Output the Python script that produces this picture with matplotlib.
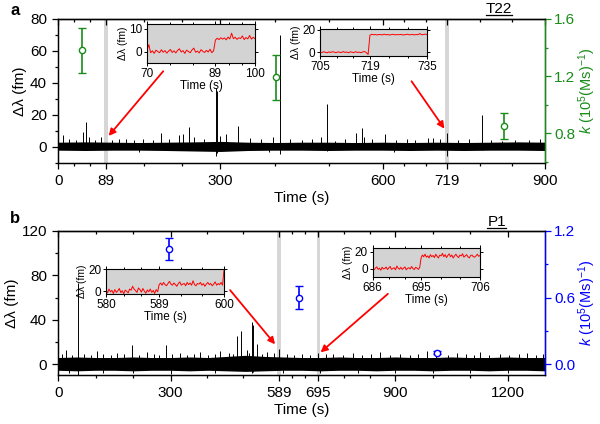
import numpy as np
import matplotlib
matplotlib.use("Agg")
import matplotlib.pyplot as plt
from matplotlib.lines import Line2D

plt.rcParams['font.family'] = ['Liberation Sans', 'DejaVu Sans']
plt.rcParams['mathtext.fontset'] = 'custom'
plt.rcParams['mathtext.rm'] = 'Liberation Sans'
plt.rcParams['mathtext.it'] = 'Liberation Sans:italic'
plt.rcParams['axes.linewidth'] = 0.9

# ---------------- panel a (T22) data ----------------
env_t_a = np.arange(0, 901, 50)
env_hi_a = [3.0, 3.2, 3.0, 2.8, 3.0, 3.2, 3.5, 3.0, 2.8, 3.0, 3.0, 2.8, 3.0, 2.8, 3.0, 2.8, 3.0, 3.2, 3.0]
env_lo_a = [-2.0, -2.2, -2.0, -2.0, -2.2, -2.5, -2.8, -2.2, -2.0, -2.0, -2.2, -2.0, -2.0, -2.2, -2.0, -2.2, -2.0, -2.0, -2.2]
spike_t_a = [9, 20, 33, 45, 52, 57, 68, 79, 100, 112, 125, 140, 156, 175, 190, 205, 223, 231, 241, 252,
             270, 291, 293, 299, 310, 333, 355, 375, 397, 411, 428, 450, 470, 486, 497, 511, 530, 551,
             562, 565, 580, 605, 625, 644, 660, 683, 693, 705, 719, 740, 760, 783, 800, 820, 845, 870, 890]
spike_h_a = [7.5, 5, 4.5, 9.6, 15.6, 6, 4.5, 6, 4.5, 5, 5, 4.5, 5, 4.5, 8.5, 5, 7.5, 8, 12.5, 6,
             5, 37, 35, 7, 8, 13, 5.6, 5, 6, 70, 5, 4.5, 5, 6.5, 27, 4, 5, 8.5,
             11.7, 6, 5, 8, 4.5, 4.7, 4.5, 5.7, 5.6, 5, 9, 4.5, 5, 20, 4.5, 4, 4.5, 4.5, 5]
dip_t_a = [150, 291, 293, 390, 411, 497, 620, 719, 783]
dip_h_a = [-3, -5.5, -4, -3, -4.4, -2.5, -3, -5.4, -2]
k_t_a = [44, 402, 824]
k_a = [1.38, 1.19, 0.85]
k_err_a = [0.16, 0.16, 0.09]
xticks_a = [0, 89, 300, 600, 719, 900]

# inset a1 (70-100 s)
ins1_t = np.arange(70, 100.01, 0.5)
ins1_y = [0.5, 3, -0.5, 0.3, -0.8, 0.6, 0, -0.5, 0.8, -0.3, 0.4, -0.7, 0.2, 0.9, -0.4, 0.3, -0.6, 0.5, 1.2,
          -0.2, 0.4, -0.8, 0.6, 0, -0.5, 0.7, 1.5, -0.3, 0.2, -0.6, 0.8, 0.1, -0.4, 0.5, -0.2, 1.0, -0.5, 0.3,
          5.0, 5.8, 5.2, 6.0, 5.4, 5.9, 5.1, 6.3, 5.5, 8.0, 5.6, 6.2, 5.3, 6.0, 5.7, 6.8, 5.2, 6.1, 5.5,
          7.0, 5.4, 6.2, 5.6]
# inset a2 (705-735 s)
ins2_t = np.arange(705, 735.01, 0.5)
ins2_y = [0.2, -0.3, 0.4, 0, -0.5, 0.3, -0.2, 0.5, 0.1, -0.4, 0.3, 0, -0.3, 0.6, -0.1, 0.2, -0.5, 0.4,
          0, -0.3, 0.5, -0.2, 0.1, -0.4, 0.3, 0.6, -0.3, -2.0,
          15.0, 15.8, 15.4, 15.6, 15.2, 15.7, 15.5, 15.3, 15.9, 15.4, 15.6, 15.2, 15.5, 15.8, 15.3, 15.6,
          15.4, 15.7, 15.5, 15.2, 15.6, 15.9, 15.4, 15.5, 15.7, 15.3, 15.6, 15.5, 16.5, 15.4, 15.6, 16.0, 15.5]

# ---------------- panel b (P1) data ----------------
env_t_b = np.arange(0, 1301, 50)
env_hi_b = [6, 6.5, 6, 6, 6.5, 6, 6, 6.5, 6, 7, 8, 7, 6.5, 6, 6, 6.5, 6, 6, 6.5, 6, 6, 6.5, 6, 6, 6.5, 6, 6]
env_lo_b = [-5.5, -6, -5.5, -5.5, -6, -5.5, -5.5, -6, -5.5, -6, -6.5, -6, -5.5, -5.5, -6, -5.5, -5.5,
            -6, -5.5, -5.5, -6, -5.5, -5.5, -6, -5.5, -5.5, -6]
spike_t_b = [10, 22, 38, 53, 70, 88, 103, 120, 140, 156, 175, 198, 215, 236, 255, 270, 287, 305, 325, 345,
             362, 379, 400, 418, 432, 455, 468, 477, 487, 503, 510, 517, 521, 530, 545, 557, 575, 590, 610,
             630, 650, 672, 695, 715, 735, 760, 788, 810, 835, 860, 885, 913, 940, 960, 985, 1010, 1040,
             1065, 1090, 1110, 1127, 1150, 1180, 1205, 1230, 1252, 1275, 1295]
spike_h_b = [9, 13, 8, 73, 9, 8, 12, 9, 8, 10, 9, 17, 8, 11, 9, 8, 17.5, 9, 10, 8,
             9, 11, 8, 9, 12, 10, 9, 25, 30, 13, 10, 38, 35, 18, 9, 11, 10, 14, 9,
             8, 9, 8, 10, 9, 9, 8, 10, 8, 9, 11, 8, 9, 8, 9, 12, 9, 8,
             10, 9, 8, 11, 8, 9, 8, 9, 10, 8, 9]
dip_t_b = [30, 53, 120, 200, 300, 420, 517, 521, 600, 700, 800, 900, 1000, 1100, 1200]
dip_h_b = [-8, -10, -8, -7.5, -9, -8, -8, -7, -8, -8, -7.5, -8, -8, -7.5, -8]
k_t_b = [297, 643, 1011]
k_b = [1.04, 0.60, 0.105]
k_err_b = [0.10, 0.105, 0.015]
xticks_b = [0, 300, 589, 695, 900, 1200]

# inset b1 (580-600 s)
ins3_t = np.arange(580, 600.01, 0.25)
ins3_y = [1, -1.5, 2, -0.5, 0.8, -2, 1.5, -1, 0.3, 2.5, -1.2, 0.5, -2.2, 1, 0, -1.5, 2, 1, 4.5, 2, 0.5,
          -1, 3, 1.5, -0.8, 2.5, 0, -1.8, 1.2, -0.5, 2, -1, 0.8, -2, 1.5, -0.5,
          6, 7.5, 5.5, 8, 6, 5, 7, 9, 6.5, 5.5, 7.5, 6, 4.5, 7, 8.5, 5.5, 6.5, 7, 5, 8, 6, 7.5, 5.5, 9.5, 6,
          5, 7, 6.5, 8, 5.5, 7, 4.5, 6.5, 8, 6, 7, 5, 6.5, 8.5, 5.5, 7, 6, 8, 5.5, 20]
# inset b2 (686-706 s)
ins4_t = np.arange(686, 706.01, 0.25)
ins4_y = [1, -1.5, 0.5, 2, -1, 0.5, -2, 1.5, -0.5, 0, 1.8, -1.2, 0.8, 2.5, -1, 0, 1, -1.5, 3, 0.5, -0.8,
          1.5, -1, 0.5, 2, -1.5, 0.3, 1, -0.5, 2.5, 0, -1.2, 1.5, 0.5, -1, 1,
          12, 16, 14, 17, 13.5, 15, 12.5, 16.5, 14, 15.5, 13, 17, 14.5, 12.5, 16, 15, 18, 14, 16.5, 13,
          15.5, 17.5, 14, 16, 12.5, 15, 17, 14.5, 13, 16, 15, 17.5, 13.5, 15, 16.5, 14, 12.5, 15.5, 16,
          14, 13.5, 15, 17, 14.5, 15.5]

fig = plt.figure(figsize=(6, 4.24), dpi=100)


def minor_between(majors):
    m = []
    for a, b in zip(majors[:-1], majors[1:]):
        m += [a + (b - a) / 3, a + 2 * (b - a) / 3]
    return m


def main_panel(rect, xlim, ylim, xticks, yticks, ymin, env_t, hi, lo, st, sh, dt, dh, bands):
    ax = fig.add_axes(rect)
    for b in bands:
        ax.axvspan(b[0], b[1], color='#d6d6d6', lw=0, zorder=0)
    ax.fill_between(env_t, lo, hi, color='k', lw=0, zorder=2)
    ax.vlines(st, 0, sh, color='k', lw=0.7, zorder=2)
    ax.vlines(dt, 0, dh, color='k', lw=0.7, zorder=2)
    ax.set_xlim(*xlim)
    ax.set_ylim(*ylim)
    ax.set_xticks(xticks)
    ax.set_xticks(minor_between(xticks), minor=True)
    ax.set_yticks(yticks)
    ax.set_yticks(ymin, minor=True)
    ax.tick_params(axis='both', which='major', direction='out', length=4.5, width=0.9, labelsize=11)
    ax.tick_params(axis='both', which='minor', direction='out', length=2.5, width=0.9)
    top = ax.secondary_xaxis('top')
    top.set_xticks(xticks)
    top.set_xticks(minor_between(xticks), minor=True)
    top.tick_params(which='major', direction='in', length=4.5, width=0.9, labeltop=False)
    top.tick_params(which='minor', direction='in', length=2.5, width=0.9)
    top.set_xticklabels([])
    ax.set_xlabel('Time (s)', fontsize=11, labelpad=2)
    ax.set_ylabel('Δλ (fm)', fontsize=11, labelpad=2)
    return ax


def k_axis(ax, color, ylim, yticks, ymin, t, k, err):
    ax2 = ax.twinx()
    ax2.set_ylim(*ylim)
    ax2.errorbar(t, k, yerr=err, fmt='o', color=color, mfc='white', mec=color, ms=4.5,
                 capsize=3, elinewidth=1.2, capthick=1.2, mew=1.0, zorder=5)
    ax2.set_yticks(yticks)
    ax2.set_yticks(ymin, minor=True)
    ax2.tick_params(axis='y', which='major', direction='out', length=4.5, width=0.9, labelsize=11,
                    colors=color, pad=2)
    ax2.tick_params(axis='y', which='minor', direction='out', length=2.5, width=0.9, colors=color)
    ax2.spines['right'].set_color(color)
    ax2.spines['right'].set_linewidth(1.0)
    ax2.set_ylabel(r'$k$ (10$^5$(Ms)$^{-1}$)', color=color, fontsize=10.5, labelpad=1)
    return ax2


def inset(rect, t, y, xlim, ylim, xticks, yticks):
    ins = fig.add_axes(rect)
    ins.set_facecolor('#d3d3d3')
    ins.plot(t, y, color='red', lw=0.7)
    ins.set_xlim(*xlim)
    ins.set_ylim(*ylim)
    ins.set_xticks(xticks)
    ins.set_xticks(minor_between(xticks), minor=True)
    ins.set_yticks(yticks)
    ins.tick_params(which='both', labelsize=8.5, length=2.5, width=0.7, pad=1, top=True, right=True)
    ins.tick_params(which='minor', length=1.5)
    for s in ins.spines.values():
        s.set_linewidth(0.8)
    ins.set_xlabel('Time (s)', fontsize=8.5, labelpad=0)
    ins.set_ylabel('Δλ (fm)', fontsize=7.5, labelpad=1)
    return ins


def underlined(x, y, s):
    txt = fig.text(x, y, s, fontsize=11, ha='center', va='baseline', zorder=10)
    fig.canvas.draw()
    bb = txt.get_window_extent().transformed(fig.transFigure.inverted())
    fig.add_artist(Line2D([bb.x0, bb.x1], [y - 0.006, y - 0.006], color='k', lw=0.9, zorder=10))


# ---------------- panel a ----------------
ax_a = main_panel([0.097, 0.6156, 0.8113, 0.3396], (0, 900), (-10, 80), xticks_a, [0, 20, 40, 60, 80],
                  [-10, 10, 30, 50, 70], env_t_a, env_hi_a, env_lo_a, spike_t_a, spike_h_a,
                  dip_t_a, dip_h_a, [(85.5, 92.5), (715.5, 722.5)])
k_axis(ax_a, '#1a8c1a', (0.59, 1.6), [0.8, 1.2, 1.6], [0.6, 1.0, 1.4], k_t_a, k_a, k_err_a)
inset([0.245, 0.8514, 0.18, 0.092], ins1_t, ins1_y, (70, 100), (-5, 12), [70, 89, 100], [0, 10])
inset([0.5333, 0.868, 0.1783, 0.0644], ins2_t, ins2_y, (705, 735), (-3.3, 20.8), [705, 719, 735], [0, 20])
ax_a.annotate('', xy=(90, 5.6), xycoords='data', xytext=(0.275, 0.837), textcoords='figure fraction',
              arrowprops=dict(arrowstyle='-|>', color='red', lw=1.3, mutation_scale=10), zorder=10)
ax_a.annotate('', xy=(717, 10), xycoords='data', xytext=(0.6833, 0.8137), textcoords='figure fraction',
              arrowprops=dict(arrowstyle='-|>', color='red', lw=1.3, mutation_scale=10), zorder=10)
fig.text(0.025, 0.976, 'a', fontsize=12, fontweight='bold', ha='center', va='center')

# ---------------- panel b ----------------
ax_b = main_panel([0.097, 0.1149, 0.8113, 0.3403], (0, 1300), (-10, 120), xticks_b, [0, 40, 80, 120],
                  [20, 60, 100], env_t_b, env_hi_b, env_lo_b, spike_t_b, spike_h_b,
                  dip_t_b, dip_h_b, [(584, 594), (690, 700)])
k_axis(ax_b, '#0000ff', (-0.1, 1.2), [0.0, 0.6, 1.2], [0.3, 0.9], k_t_b, k_b, k_err_b)
inset([0.1767, 0.3066, 0.1967, 0.0597], ins3_t, ins3_y, (580, 600), (-2.5, 20.5), [580, 589, 600], [0, 20])
inset([0.6212, 0.3467, 0.1788, 0.0677], ins4_t, ins4_y, (686, 706), (-10, 24), [686, 695, 706], [0, 20])
ax_b.annotate('', xy=(584, 16), xycoords='data', xytext=(0.3805, 0.3208), textcoords='figure fraction',
              arrowprops=dict(arrowstyle='-|>', color='red', lw=1.3, mutation_scale=10), zorder=10)
ax_b.annotate('', xy=(695, 9), xycoords='data', xytext=(0.65, 0.3113), textcoords='figure fraction',
              arrowprops=dict(arrowstyle='-|>', color='red', lw=1.3, mutation_scale=10), zorder=10)
fig.text(0.025, 0.484, 'b', fontsize=12, fontweight='bold', ha='center', va='center')

underlined(0.832, 0.970, 'T22')
underlined(0.828, 0.468, 'P1')

fig.savefig('out.png', dpi=100)
